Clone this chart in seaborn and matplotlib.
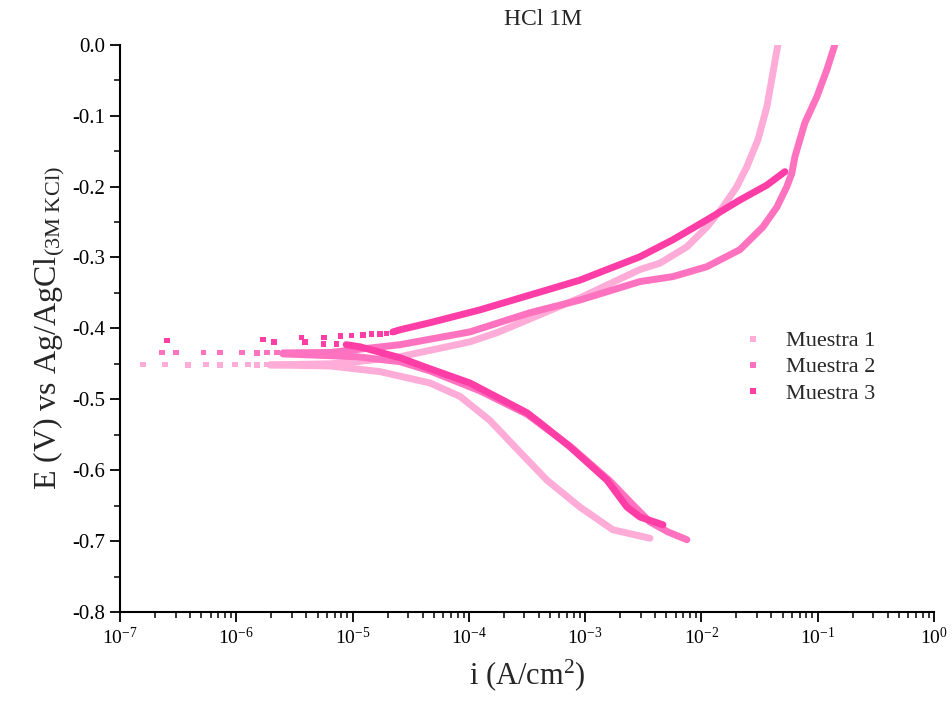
import numpy as np
import pandas as pd
import seaborn as sns
import matplotlib.pyplot as plt
from matplotlib.ticker import MultipleLocator, LogLocator, NullFormatter

sns.set_theme(style="ticks")
plt.rcParams['font.family'] = ['Liberation Serif', 'DejaVu Serif']
plt.rcParams['mathtext.fontset'] = 'custom'
plt.rcParams['mathtext.rm'] = 'Liberation Serif'
plt.rcParams['mathtext.it'] = 'Liberation Serif:italic'

muestras = ['Muestra 1', 'Muestra 2', 'Muestra 3']
colores = ['#FFACD8', '#FF72BF', '#FF3DA6']

x_ticks = [1e-7, 1e-6, 1e-5, 1e-4, 1e-3, 1e-2, 1e-1, 1e0]
y_ticks = [-0.8, -0.7, -0.6, -0.5, -0.4, -0.3, -0.2, -0.1, 0.0]

# sparse points near Ecorr (i in A/cm2, E in V)
m1_sparse_i = [1.57e-7, 2.44e-7, 3.85e-7, 5.5e-7, 7.24e-7, 9.75e-7, 1.26e-6, 1.51e-6, 1.84e-6]
m1_sparse_E = [-0.451, -0.451, -0.452, -0.451, -0.452, -0.451, -0.451, -0.452, -0.451]
m2_sparse_i = [2.29e-7, 3.03e-7, 5.2e-7, 7.2e-7, 1.12e-6, 1.51e-6, 1.84e-6, 2.24e-6]
m2_sparse_E = [-0.434, -0.434, -0.434, -0.434, -0.434, -0.435, -0.434, -0.434]
m3_sparse_i = [2.52e-7, 1.69e-6, 2.11e-6, 3.65e-6, 3.9e-6, 5.68e-6, 5.6e-6, 7.3e-6,
               7.9e-6, 9.8e-6, 1.23e-5, 1.46e-5, 1.72e-5, 1.96e-5, 2.22e-5]
m3_sparse_E = [-0.417, -0.416, -0.419, -0.413, -0.419, -0.413, -0.422, -0.422,
               -0.411, -0.410, -0.409, -0.408, -0.408, -0.407, -0.406]

# anodic branches
m1_an_i = [1.95e-6, 6.4e-6, 1.09e-5, 2.56e-5, 1.02e-4, 1.75e-4, 9.02e-4, 2.96e-3, 4.4e-3,
           7.5e-3, 0.01114, 0.01531, 0.02018, 0.0246, 0.03062, 0.03656, 0.04121, 0.0455]
m1_an_E = [-0.4515, -0.450, -0.447, -0.440, -0.419, -0.406, -0.357, -0.317, -0.308,
           -0.285, -0.257, -0.229, -0.200, -0.172, -0.134, -0.0875, -0.0395, 0.0]
m2_an_i = [2.52e-6, 6.4e-6, 2.56e-5, 1.02e-4, 3.35e-4, 9.02e-4, 2.96e-3, 5.69e-3, 0.01114, 0.02143,
           0.03381, 0.04457, 0.05433, 0.05998, 0.06368, 0.07031, 0.07762, 0.0984, 0.1199, 0.1406]
m2_an_E = [-0.4346, -0.434, -0.423, -0.405, -0.378, -0.360, -0.334, -0.327, -0.313, -0.289,
           -0.257, -0.229, -0.200, -0.181, -0.158, -0.134, -0.110, -0.0734, -0.0353, 0.0]
m3_an_i = [2.22e-5, 2.56e-5, 4.63e-5, 1.24e-4, 3.35e-4, 9.02e-4, 2.96e-3, 5.69e-3, 0.01114,
           0.02143, 0.03656, 0.05224]
m3_an_E = [-0.405, -0.402, -0.392, -0.374, -0.353, -0.332, -0.299, -0.275, -0.247,
           -0.219, -0.198, -0.179]

# cathodic branches
m1_cat_i = [1.95e-6, 6.4e-6, 1.72e-5, 4.63e-5, 8.4e-5, 1.52e-4, 2.39e-4, 4.69e-4, 9.02e-4,
            1.73e-3, 3.61e-3]
m1_cat_E = [-0.4515, -0.453, -0.461, -0.477, -0.496, -0.530, -0.564, -0.614, -0.652,
            -0.684, -0.696]
m2_cat_i = [2.52e-6, 1.09e-5, 2.56e-5, 4.63e-5, 1.24e-4, 3.16e-4, 7.4e-4, 1.63e-3, 2.58e-3,
            3.61e-3, 5.15e-3, 7.5e-3]
m2_cat_E = [-0.436, -0.440, -0.447, -0.460, -0.488, -0.521, -0.566, -0.615, -0.649,
            -0.673, -0.687, -0.698]
m3_cat_i = [8.8e-6, 1.16e-5, 2.56e-5, 4.63e-5, 1.02e-4, 3.16e-4, 4.08e-4, 7.4e-4, 1.54e-3,
            2.29e-3, 2.96e-3, 4.67e-3]
m3_cat_E = [-0.423, -0.426, -0.4415, -0.457, -0.477, -0.519, -0.533, -0.567, -0.614,
            -0.652, -0.666, -0.677]

sparse = pd.concat([
    pd.DataFrame({'i': m1_sparse_i, 'E': m1_sparse_E, 'Muestra': 'Muestra 1'}),
    pd.DataFrame({'i': m2_sparse_i, 'E': m2_sparse_E, 'Muestra': 'Muestra 2'}),
    pd.DataFrame({'i': m3_sparse_i, 'E': m3_sparse_E, 'Muestra': 'Muestra 3'}),
], ignore_index=True)

ramas = []
for m, (ai, aE, ci, cE) in zip(muestras, [(m1_an_i, m1_an_E, m1_cat_i, m1_cat_E),
                                         (m2_an_i, m2_an_E, m2_cat_i, m2_cat_E),
                                         (m3_an_i, m3_an_E, m3_cat_i, m3_cat_E)]):
    ramas.append(pd.DataFrame({'i': ai, 'E': aE, 'Muestra': m, 'rama': 'an'}))
    ramas.append(pd.DataFrame({'i': ci, 'E': cE, 'Muestra': m, 'rama': 'cat'}))
curvas = pd.concat(ramas, ignore_index=True)

fig = plt.figure(figsize=(9.53, 7.10), dpi=100)
ax = fig.add_axes([0.126, 0.138, 0.854, 0.799])
ax.set_xscale('log')

pal = dict(zip(muestras, colores))
sns.lineplot(data=curvas, x='i', y='E', hue='Muestra', units='rama', estimator=None,
             sort=False, palette=pal, lw=5, legend=False, ax=ax)
sns.scatterplot(data=sparse, x='i', y='E', hue='Muestra', palette=pal, marker='s',
                s=16, linewidth=0, ax=ax)

ax.set_xlim(1e-7, 1)
ax.set_ylim(-0.8, 0.0)
ax.set_xticks(x_ticks)
ax.xaxis.set_minor_locator(LogLocator(base=10, subs=np.arange(2, 10), numticks=100))
ax.xaxis.set_minor_formatter(NullFormatter())
ax.set_yticks(y_ticks)
ax.set_yticklabels([f'{v:.1f}' for v in y_ticks])
ax.yaxis.set_minor_locator(MultipleLocator(0.05))

for s in ['top', 'right']:
    ax.spines[s].set_visible(False)
for s in ['left', 'bottom']:
    ax.spines[s].set_color('black')
    ax.spines[s].set_linewidth(1.5)
ax.tick_params(which='major', direction='out', length=7, width=1.3, labelsize=15, colors='black')
ax.tick_params(axis='x', which='major', labelsize=14)
ax.tick_params(which='minor', direction='out', length=4, width=1.1, colors='black')

ax.set_xlabel('i (A/cm$^2$)', fontsize=22, labelpad=7)
ax.set_ylabel('E (V) vs Ag/AgCl$_{\\mathregular{(3M\\ KCl)}}$', fontsize=23, labelpad=4)
ax.set_title('HCl 1M', fontsize=17, x=0.52, pad=14)

leg = ax.legend(loc='upper left', bbox_to_anchor=(0.740, 0.531), frameon=False,
                fontsize=16, markerscale=1.1, handlelength=1.0, handletextpad=0.95,
                labelspacing=0.25)

fig.savefig('out.png', dpi=100)
